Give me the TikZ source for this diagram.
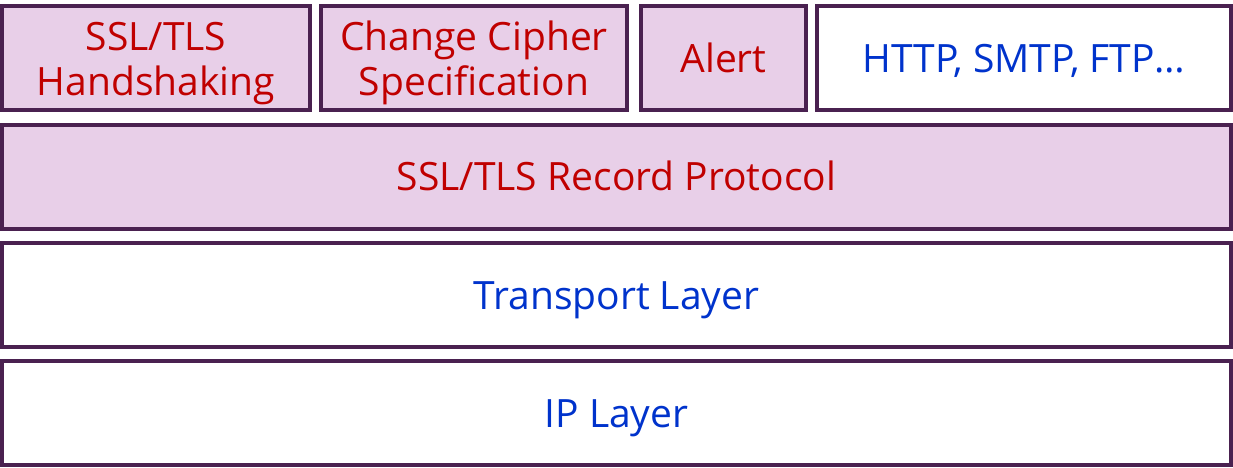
\documentclass[tikz,border=0pt]{standalone}
\usepackage{fontspec}
\setmainfont{Open Sans}
\definecolor{bordc}{HTML}{4A2150}
\definecolor{pinkf}{HTML}{E8CFE8}
\definecolor{redt}{HTML}{C00000}
\definecolor{bluet}{HTML}{0033CC}
\begin{document}
\begin{tikzpicture}[x=1pt,y=-1pt,
  layer/.style={draw=bordc,line width=4pt,fill=white},
  seclayer/.style={layer,fill=pinkf},
  lbl/.style={font=\fontsize{39}{45}\selectfont,align=center,inner sep=0pt,anchor=base}]
\useasboundingbox (0,0) rectangle (1233,467);
% rectangles
\draw[seclayer] (2,6) rectangle (310,110);
\draw[seclayer] (321,6) rectangle (627,110);
\draw[seclayer] (641,6) rectangle (806,110);
\draw[layer] (817,6) rectangle (1231,110);
\draw[seclayer] (2,125) rectangle (1231,229);
\draw[layer] (2,243) rectangle (1231,347);
\draw[layer] (2,361) rectangle (1231,465);
% labels
\node[lbl,text=redt] (hs) at (156,95) {SSL/TLS\\Handshaking};
\node[lbl,text=redt] (ccs) at (474,95) {Change Cipher\\Specification};
\node[lbl,text=redt] (al) at (723.5,72) {Alert};
\node[lbl,text=bluet] (app) at (1024,72) {HTTP, SMTP, FTP\dots};
\node[lbl,text=redt] (rec) at (616.5,190) {SSL/TLS Record Protocol};
\node[lbl,text=bluet] (tr) at (616.5,309) {Transport Layer};
\node[lbl,text=bluet] (ip) at (616.5,427) {IP Layer};
\end{tikzpicture}
\end{document}
